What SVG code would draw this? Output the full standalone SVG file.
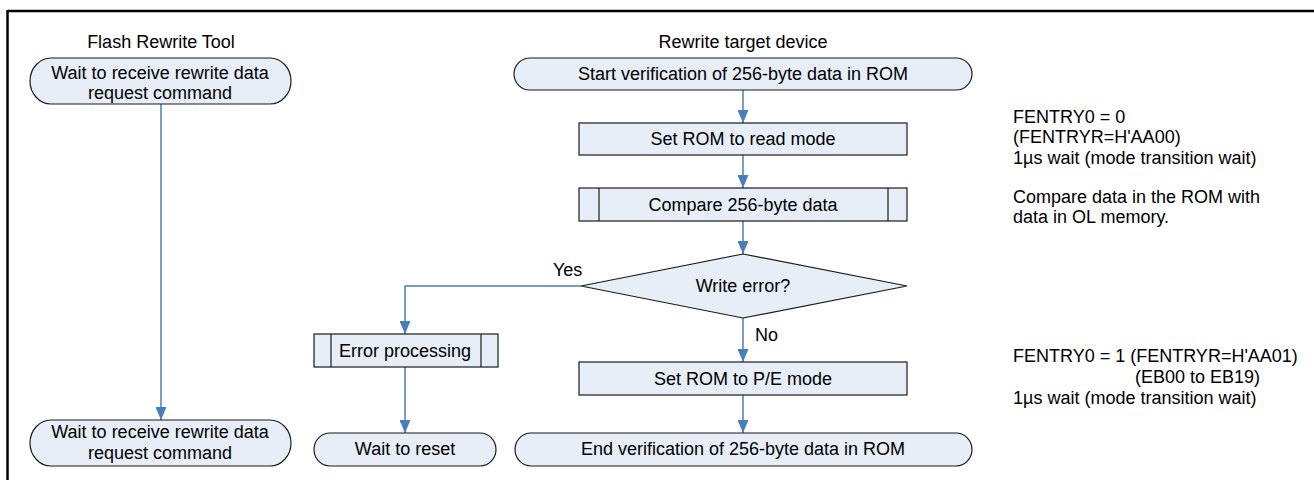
<svg xmlns="http://www.w3.org/2000/svg" width="1314" height="480" viewBox="0 0 1314 480">
<style>
text{font-family:"Liberation Sans",Arial,sans-serif;font-size:18px;fill:#000}
.c{text-anchor:middle}
.box{fill:#e7eef8;stroke:#1a1a1a;stroke-width:1.2}
.sub{stroke:#1a1a1a;stroke-width:1.2}
.ln{fill:none;stroke:#4a7ebb;stroke-width:1.5}
</style>
<defs>
<marker id="ah" viewBox="0 0 13 11" refX="13" refY="5.5" markerWidth="13" markerHeight="11" markerUnits="userSpaceOnUse" orient="auto">
<path d="M0,0 L13,5.5 L0,11 z" fill="#4a7ebb"/>
</marker>
</defs>
<rect x="0" y="0" width="1314" height="480" fill="#fff"/>
<g id="frame">
<line x1="7.5" y1="11" x2="1314" y2="11" stroke="#000" stroke-width="2.5"/>
<line x1="7.5" y1="10" x2="7.5" y2="480" stroke="#000" stroke-width="2.5"/>
</g>
<g id="lanes">
<text class="c" x="161" y="48">Flash Rewrite Tool</text>
<text class="c" x="743" y="48">Rewrite target device</text>
</g>
<g id="connectors">
<line class="ln" x1="161" y1="104" x2="161" y2="420" marker-end="url(#ah)"/>
<line class="ln" x1="743" y1="90" x2="743" y2="123" marker-end="url(#ah)"/>
<line class="ln" x1="743" y1="155" x2="743" y2="188" marker-end="url(#ah)"/>
<line class="ln" x1="743" y1="221" x2="743" y2="254" marker-end="url(#ah)"/>
<path class="ln" d="M581,286 H405 V334" marker-end="url(#ah)"/>
<line class="ln" x1="743" y1="318" x2="743" y2="362" marker-end="url(#ah)"/>
<line class="ln" x1="743" y1="395" x2="743" y2="433" marker-end="url(#ah)"/>
<line class="ln" x1="405" y1="367" x2="405" y2="433" marker-end="url(#ah)"/>
<text x="553" y="276">Yes</text>
<text x="755" y="341">No</text>
</g>
<g id="tool-wait1">
<rect class="box" x="30" y="58" width="261" height="46" rx="21" ry="23"/>
<text class="c" x="160" y="79">Wait to receive rewrite data</text>
<text class="c" x="160" y="99">request command</text>
</g>
<g id="tool-wait2">
<rect class="box" x="30" y="420" width="261" height="46" rx="21" ry="23"/>
<text class="c" x="160" y="438">Wait to receive rewrite data</text>
<text class="c" x="160" y="459">request command</text>
</g>
<g id="start">
<rect class="box" x="514" y="58" width="458" height="32" rx="16" ry="16"/>
<text class="c" x="743" y="80">Start verification of 256-byte data in ROM</text>
</g>
<g id="set-read">
<rect class="box" x="579" y="123" width="328" height="32"/>
<text class="c" x="743" y="145">Set ROM to read mode</text>
</g>
<g id="compare">
<rect class="box" x="579" y="188" width="328" height="33"/>
<line class="sub" x1="599" y1="188" x2="599" y2="221"/>
<line class="sub" x1="888" y1="188" x2="888" y2="221"/>
<text class="c" x="743" y="211">Compare 256-byte data</text>
</g>
<g id="decision">
<polygon class="box" points="743,254 907,286 743,318 581,286"/>
<text class="c" x="743" y="292">Write error?</text>
</g>
<g id="error-proc">
<rect class="box" x="314" y="334" width="184" height="33"/>
<line class="sub" x1="331" y1="334" x2="331" y2="367"/>
<line class="sub" x1="481" y1="334" x2="481" y2="367"/>
<text class="c" x="405" y="357">Error processing</text>
</g>
<g id="wait-reset">
<rect class="box" x="314" y="433" width="182" height="33" rx="16" ry="16.5"/>
<text class="c" x="405" y="455">Wait to reset</text>
</g>
<g id="set-pe">
<rect class="box" x="579" y="362" width="328" height="33"/>
<text class="c" x="743" y="385">Set ROM to P/E mode</text>
</g>
<g id="end">
<rect class="box" x="515" y="433" width="457" height="33" rx="16" ry="16.5"/>
<text class="c" x="743" y="455">End verification of 256-byte data in ROM</text>
</g>
<g id="notes">
<text x="1013" y="123">FENTRY0 = 0</text>
<text x="1013" y="143">(FENTRYR=H'AA00)</text>
<text x="1013" y="164">1µs wait (mode transition wait)</text>
<text x="1013" y="203">Compare data in the ROM with</text>
<text x="1013" y="223">data in OL memory.</text>
<text x="1013" y="362">FENTRY0 = 1 (FENTRYR=H'AA01)</text>
<text x="1135" y="383">(EB00 to EB19)</text>
<text x="1013" y="404">1µs wait (mode transition wait)</text>
</g>
</svg>
